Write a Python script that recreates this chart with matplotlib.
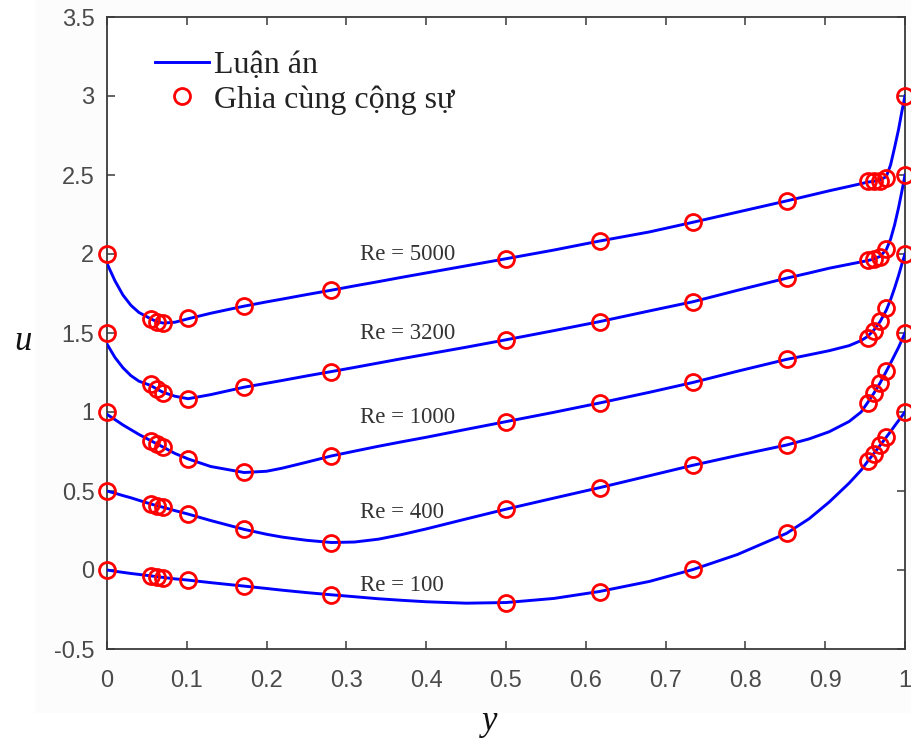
import matplotlib
matplotlib.use("Agg")
import matplotlib.pyplot as plt
from matplotlib.patches import Rectangle

# Reynolds numbers and the vertical shift applied to each profile
reynolds = [100, 400, 1000, 3200, 5000]
shift = [0.0, 0.5, 1.0, 1.5, 2.0]

# Ghia et al. benchmark: u along the vertical centreline
y_ghia = [0.0, 0.0547, 0.0625, 0.0703, 0.1016, 0.1719, 0.2813, 0.5,
          0.6172, 0.7344, 0.8516, 0.9531, 0.9609, 0.9688, 0.9766, 1.0]
u_ghia = {
    100:  [0.0, -0.03717, -0.04192, -0.04775, -0.06434, -0.10150, -0.15662, -0.20581,
           -0.13641, 0.00332, 0.23151, 0.68717, 0.73722, 0.78871, 0.84123, 1.0],
    400:  [0.0, -0.08186, -0.09266, -0.10338, -0.14612, -0.24299, -0.32726, -0.11477,
           0.02135, 0.16256, 0.29093, 0.55892, 0.61756, 0.68439, 0.75837, 1.0],
    1000: [0.0, -0.18109, -0.20196, -0.22220, -0.29730, -0.38289, -0.27805, -0.06080,
           0.05702, 0.18719, 0.33304, 0.46604, 0.51117, 0.57492, 0.65928, 1.0],
    3200: [0.0, -0.32407, -0.35344, -0.37827, -0.41933, -0.34323, -0.24427, -0.04272,
           0.07156, 0.19791, 0.34682, 0.46101, 0.46547, 0.48296, 0.53236, 1.0],
    5000: [0.0, -0.41165, -0.42901, -0.43643, -0.40435, -0.33050, -0.22855, -0.03039,
           0.08183, 0.20087, 0.33556, 0.46036, 0.45992, 0.46120, 0.48223, 1.0],
}

# Present computation (already shifted), sampled along y
y_calc = [0.0, 0.01, 0.02, 0.03, 0.04, 0.0547, 0.0625, 0.0703, 0.085, 0.1016,
          0.13, 0.1719, 0.2, 0.22, 0.25, 0.2813, 0.31, 0.34, 0.37, 0.4,
          0.45, 0.5, 0.56, 0.6172, 0.68, 0.7344, 0.79, 0.8516, 0.88, 0.905,
          0.93, 0.945, 0.9531, 0.9609, 0.9688, 0.9766, 0.982, 0.987, 0.992, 0.996,
          1.0]
u_calc = {
    100:  [0.0, -0.008, -0.015, -0.022, -0.028, -0.037, -0.042, -0.047, -0.056, -0.064,
           -0.080, -0.102, -0.117, -0.128, -0.143, -0.157, -0.169, -0.182, -0.192, -0.201,
           -0.210, -0.206, -0.180, -0.136, -0.072, 0.003, 0.098, 0.232, 0.325, 0.430,
           0.550, 0.632, 0.687, 0.737, 0.789, 0.841, 0.877, 0.912, 0.946, 0.973,
           1.0],
    400:  [0.5, 0.486, 0.471, 0.457, 0.441, 0.418, 0.407, 0.397, 0.376, 0.354,
           0.313, 0.257, 0.226, 0.208, 0.188, 0.174, 0.177, 0.195, 0.225, 0.260,
           0.323, 0.385, 0.455, 0.521, 0.597, 0.663, 0.725, 0.791, 0.830, 0.875,
           0.940, 1.000, 1.059, 1.118, 1.184, 1.258, 1.310, 1.360, 1.410, 1.455,
           1.5],
    1000: [0.985, 0.952, 0.918, 0.888, 0.858, 0.819, 0.798, 0.778, 0.738, 0.703,
           0.655, 0.617, 0.625, 0.645, 0.682, 0.722, 0.752, 0.783, 0.812, 0.840,
           0.890, 0.939, 0.998, 1.057, 1.125, 1.187, 1.258, 1.333, 1.362, 1.388,
           1.420, 1.452, 1.478, 1.518, 1.572, 1.645, 1.712, 1.785, 1.865, 1.935,
           2.0],
    3200: [1.43, 1.345, 1.280, 1.230, 1.195, 1.168, 1.145, 1.125, 1.100, 1.084,
           1.110, 1.157, 1.182, 1.200, 1.228, 1.256, 1.282, 1.310, 1.338, 1.365,
           1.410, 1.457, 1.515, 1.572, 1.640, 1.698, 1.770, 1.847, 1.880, 1.910,
           1.935, 1.950, 1.958, 1.968, 1.985, 2.028, 2.095, 2.185, 2.295, 2.395,
           2.5],
    5000: [1.94, 1.830, 1.740, 1.675, 1.630, 1.590, 1.572, 1.563, 1.568, 1.590,
           1.625, 1.670, 1.697, 1.715, 1.743, 1.771, 1.798, 1.825, 1.853, 1.880,
           1.925, 1.970, 2.025, 2.082, 2.140, 2.201, 2.265, 2.336, 2.370, 2.400,
           2.428, 2.445, 2.455, 2.460, 2.468, 2.490, 2.565, 2.675, 2.790, 2.900,
           3.0],
}

# Curve annotations: (y position, u position)
label_pos = {100: (0.317, -0.095), 400: (0.317, 0.367), 1000: (0.317, 0.968),
             3200: (0.317, 1.494), 5000: (0.317, 2.0)}

xticks = [0, 0.1, 0.2, 0.3, 0.4, 0.5, 0.6, 0.7, 0.8, 0.9, 1]
xticklabels = ["0", "0.1", "0.2", "0.3", "0.4", "0.5", "0.6", "0.7", "0.8", "0.9", "1"]
yticks = [-0.5, 0, 0.5, 1, 1.5, 2, 2.5, 3, 3.5]
yticklabels = ["-0.5", "0", "0.5", "1", "1.5", "2", "2.5", "3", "3.5"]

serif = ["Liberation Serif", "DejaVu Serif"]
sans = ["Liberation Sans", "DejaVu Sans"]
axis_grey = "#3a3a3a"
text_grey = "#4a4a4a"

W, H = 912, 743
fig = plt.figure(figsize=(W / 100, H / 100), dpi=100)
fig.patch.set_facecolor("white")
fig.patches.append(Rectangle((35 / W, (H - 713) / H), 1 - 35 / W, 713 / H,
                             transform=fig.transFigure, facecolor="#fcfcfc",
                             edgecolor="none", zorder=-10))

ax = fig.add_axes([107 / W, (H - 649) / H, 798 / W, 632 / H])
ax.set_facecolor("white")

for i, re in enumerate(reynolds):
    ax.plot(y_calc, u_calc[re], color="#0000ff", lw=2.1, zorder=3,
            solid_joinstyle="round",
            label="Luận án" if i == 0 else None)
    ax.plot(y_ghia, [v + shift[i] for v in u_ghia[re]], linestyle="none",
            marker="o", markersize=11.5, markerfacecolor="none",
            markeredgecolor="#ff0000", markeredgewidth=2.0, zorder=4,
            clip_on=False, label="Ghia cùng cộng sự" if i == 0 else None)
    lx, ly = label_pos[re]
    ax.text(lx, ly, f"Re = {re}", family=serif, fontsize=16.5, color="#333333",
            ha="left", va="center", zorder=5)

ax.set_xlim(0, 1)
ax.set_ylim(-0.5, 3.5)
ax.set_xticks(xticks)
ax.set_xticklabels(xticklabels)
ax.set_yticks(yticks)
ax.set_yticklabels(yticklabels)
ax.tick_params(direction="in", length=6, width=1.1, color=axis_grey,
               top=True, right=True, labelsize=17, labelcolor=text_grey)
ax.tick_params(axis="x", pad=15)
ax.tick_params(axis="y", pad=9)
for lab in ax.get_xticklabels() + ax.get_yticklabels():
    lab.set_family(sans)
for sp in ax.spines.values():
    sp.set_color(axis_grey)
    sp.set_linewidth(1.3)

leg = ax.legend(loc="upper left", bbox_to_anchor=((155 - 107) / 798, 1 - (51 - 17) / 632),
                frameon=False, borderaxespad=0, borderpad=0, handlelength=1.7,
                handletextpad=0.16, labelspacing=0.15,
                prop={"family": serif, "size": 23})
for t in leg.get_texts():
    t.set_color("#222222")

fig.text(23 / W, 1 - 342 / H, "u", family=serif, style="italic", fontsize=25,
         ha="center", va="center", color="#111111")
fig.text(490 / W, 1 - 722 / H, "y", family=serif, style="italic", fontsize=25,
         ha="center", va="center", color="#111111")

fig.savefig("out.png", dpi=100)
